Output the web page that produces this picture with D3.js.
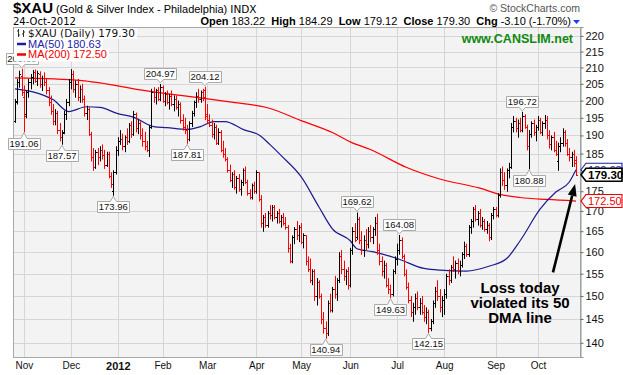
<!DOCTYPE html>
<html>
<head>
<meta charset="utf-8">
<script src="https://cdn.jsdelivr.net/npm/d3@7"></script>
<style>
    body { margin: 0; background: #fff; }
    svg { display: block; font-family: "Liberation Sans", Arial, sans-serif; }
</style>
</head>
<body>
<svg id="chart"></svg>
<script>
// daily bars [open, high, low, close], one array per month
const oct11 = [[194,200.5,193.7,199.5],[200,206.5,199,205.5],[205.5,209,204,208],[207.5,209.6,201.5,202.5]]
const nov11 = [[201,204.5,191.06,195.5],[196,203,195,202.5],[202.5,206.5,201,205.5],[205.5,208,203.5,207],
    [207,209.2,205,208.5],[208.5,209.4,205.5,206],[206,209,204.5,208.2],[208,208.8,204,205],
    [205,207.5,203,206.8],[206.8,208.5,204.5,205.5],[205.5,206.5,202,203],[203,204,198.5,199.5],
    [199.5,201.5,196,197],[197,199,193,194],[194,197.5,193,196.5],[196.5,197,190.5,191.5],
    [191.5,193.5,188.5,189.5],[189.5,191.5,187.57,190.8],[191,197,190.5,196],[196,200.5,194.5,199.5],
    [199.5,206.5,198.5,205.5]]
const dec11 = [[205.5,209.5,203.5,208],[208,209,202.5,203.5],[203.5,206,201,205],[205,206.5,200,201],
    [201,204.5,199.5,203.5],[203.5,205,199.5,200.5],[200.5,201.5,195.5,196.5],[196.5,198.5,194.5,197.5],
    [197.5,198,190,190.5],[190.5,191,183,184],[184,186.5,180.5,181.5],[181.5,186,181,185.5],
    [185.5,186.5,182,184],[184,187,183,186],[186,187.5,183.5,184.5],[184.5,186,181,182],
    [182,185.5,181.5,185],[185,185.5,178.5,179],[179,180,176,177],[175,180.5,173.96,180],
    [180,187,179.5,186]]
const jan12 = [[186,189.5,184.5,188.5],[188.5,191.5,187.5,189],[189,190.5,186,187],[187,190,185.5,189.5],
    [189.5,192,187.5,188.5],[188.5,193.5,188,193],[193,194,189.5,190.5],[190.5,197,190,196],
    [196,196.5,191,192],[192,194.5,190.5,193.5],[193.5,194,189,190],[190,192,187,188.5],
    [188.5,191,186,187],[187,188.5,185.5,186],[186,193,184.2,192.5],[192.5,203.5,192,202.5],
    [202.5,204,199.5,201],[201,203.5,199,203],[203,204,200,200.5],[200.5,204.97,200,204]]
const feb12 = [[204,204.5,199.5,200],[200,202.5,198.5,202],[202,203,199,199.5],[199.5,202,197.5,201.5],
    [201.5,203,198.5,199],[199,201.5,197,200.5],[200.5,201.5,197.5,198],[198,200,195.5,199],
    [199,199.5,193.5,194.5],[194.5,196,191.5,192.5],[192.5,195,190.5,191.5],[191.5,193,187.81,189],
    [189,194,188.5,193.5],[193.5,197,192.5,196.5],[196.5,200,195.5,199.5],[199.5,202.5,198,201.5],
    [201.5,203.5,199.5,200.5],[200.5,203,199.5,202.5],[202.5,203.5,200,201],[203,204.12,194.5,195.5]]
const mar12 = [[196,199,193.5,194.5],[194.5,196,192.5,193],[193,194.5,189.5,190.5],[190.5,193.5,189,192.5],
    [192.5,193,187.5,188],[188,192,187.5,191],[191,191.5,185.5,186],[186,188.5,184,185],
    [185,186.5,183,183.5],[183.5,184,180,180.5],[180.5,182,177.5,178],[178,180,176,179.5],
    [179.5,180.5,175.5,176],[176,179,174.5,178.5],[178.5,179.5,175,175.5],[175.5,178,174,177.5],
    [177.5,181,176.5,180.5],[180.5,181.5,177,177.5],[177.5,178,174,174.5],[174.5,175.5,173,173.5],
    [173.5,177,173,176.5],[176.5,177.5,174.5,175]]
const apr12 = [[175,180.5,174.5,180],[180,180,172.5,173],[173,174,166,167],[167,169,165,168.5],
    [168.5,169.5,166,166.5],[166.5,170,166,169.5],[169.5,171.5,168,169],[169,171.5,167.5,171],
    [171,171.5,168,168.5],[168.5,170,167,169.5],[169.5,170.5,167,167.5],[167.5,169,166,168.5],
    [168.5,169.5,166.5,167],[167,168.5,165.5,166],[166,166.5,160,161],[161,162,157.5,158],
    [158,164,157.5,163.5],[163.5,166,162,165.5],[165.5,167.5,163,164],[164,166.5,162.5,166]]
const may12 = [[166,167,162,162.5],[162.5,164.5,161,164],[164,164,157,158],[158,159,155.5,156],
    [156,158.5,153,153.5],[153.5,156,152.5,155.5],[155.5,156,149,150],[150,154,148,153],
    [153,153.5,149.5,150],[150,150.5,144,145],[145,146.5,142,143],[143,144.5,140.94,142],
    [142,149,141.5,148.5],[148.5,150.5,146.5,147],[147,152,146.5,151.5],[151.5,154.5,149.5,150.5],
    [150.5,154,149,153.5],[153.5,160,153,159],[159,160.5,155,156],[156,158,153.5,154.5],
    [154.5,156,152.5,155.5],[155.5,156.5,151.5,152.5]]
const jun12 = [[152.5,161,152,160.5],[160.5,166,159.5,165],[165,167,162.5,163],[163.5,169.62,163,168],
    [168,168.5,162,163],[163,165,159.5,160.5],[160.5,164,159,163],[163,165.5,160.5,162],
    [162,166,161,165],[165,166.5,162.5,163.5],[163.5,166,162,165.5],[165.5,168.5,164,167],
    [167,169.3,159.5,160.5],[160.5,162,157,158],[158,159,154.5,155.5],[155.5,158,154,157],
    [157,157.5,152,152.5],[152.5,154,150.5,151.5],[151.5,152.5,149.63,150.5],[150.5,156,150,155.5],
    [155.5,159,155,158.5]]
const jul12 = [[158.5,162,157,160.5],[160.5,164.08,159.5,163],[163,163.5,158.5,159],[159,159.5,154.5,155],
    [155,156,151.5,152],[152,153,148.5,149],[149,150,145.5,146.5],[146.5,148.5,144.5,147.5],
    [147.5,150.5,146,149.5],[149.5,151,147,147.5],[147.5,149.5,146,148.5],[148.5,150,146,146.5],
    [146.5,148,144.5,145.5],[145.5,147.5,144,146.5],[146.5,147,142.15,143],[143,145,142.5,144.5],
    [144.5,149,144,148.5],[148.5,152,147.5,151],[151,153.5,149,150],[150,151.5,146.5,147.5],
    [147.5,150,145.5,149]]
const aug12 = [[149,151.5,146,150.5],[150.5,155,149.5,154.5],[154.5,156,152.5,153.5],[153.5,157,153,156.5],
    [156.5,159,155.5,156],[156,158,154,157.5],[157.5,158.5,155,155.5],[155.5,158,154.5,157],
    [157,160,156.5,159.5],[159.5,162.5,158.5,161.5],[161.5,162,159,159.5],[159.5,166.5,159,166],
    [166,168,164.5,167.5],[167.5,171,166,170.5],[170.5,171.5,167.5,168],[168,170,166.5,169.5],
    [169.5,170.5,166,166.5],[166.5,168.5,165.5,167.5],[167.5,168,165,165.5],[165.5,167.5,164.5,166.5],
    [166.5,167,162.7,163.5],[163.5,169.5,163,169],[169,171,168,170.5]]
const sep12 = [[170.5,171,168.5,169],[169,174.5,168.5,174],[174,181,173.5,180],[180,181.5,176.5,178],
    [178,180,175.5,176.5],[176.5,181,175,180.5],[180.5,182.5,178.5,181.5],[181.5,193.5,181,192.5],
    [192.5,195.5,191,194],[194,195,191,192],[192,194.5,189.5,193.5],[193.5,195,191,191.5],
    [191.5,196.72,191,195.5],[195.5,196,192,192.5],[192.5,193,186,187],[187,191.5,180.88,190.5],
    [190.5,194,189.5,193.5],[193.5,194.5,190,191],[191,193,188.5,192.5]]
const oct12 = [[192.5,195.5,191.5,194.5],[194.5,195,190.5,191],[191,194,190,193.5],[193.5,195.8,192,194.5],
    [194.5,195.5,189,190],[190,191.5,186.5,187.5],[187.5,190,186,189.5],[189.5,191,185.5,186],
    [186,188.5,184.5,185],[183,188,180.5,187],[187,189.5,185.5,188],[188,192,187,191],
    [191,191.5,187,188],[188,189,184.5,185],[185,186.5,183,184],[184,185.5,181.5,185],
    [185,186,181.5,182.4],[183.22,184.29,179.12,179.3]]

// moving averages, [bar index, value]
const ma50 = [[0,203.5],[8,202.6],[17,200.3],[24,196.8],[32,198.2],[38,198],[46,196.2],[53,195.2],
    [62,192.5],[68,192.2],[77,191.7],[83,192.5],[89,193.9],[94,193.9],[102,191.7],[110,189.8],
    [114,187.5],[119,184.5],[128,178.8],[136,171],[142,165.6],[150,162.7],[153,160.8],[160,160.1],
    [171,158.5],[183,156.2],[190,155.8],[202,155.6],[212,156.7],[220,158.5],[226,162.7],[235,170.5],
    [242,174.8],[248,177.4],[251,180.63]]
const ma200 = [[0,206.8],[30,206],[38,205.3],[56,203.2],[62,202.6],[83,200.8],[96,199.6],[113,197.9],
    [128,194.2],[142,190.8],[150,188.2],[159,186.1],[175,181.3],[190,178.2],[208,175.8],[217,174.2],
    [226,173.4],[238,172.9],[251,172.5]]

// axis ticks
const priceTicks = [140,145,150,155,160,165,170,175,180,185,190,195,200,205,210,215,220]
const monthStarts = [4,25,46,66,86,108,128,150,171,192,215,234]
const monthLabels = ['Nov','Dec','2012','Feb','Mar','Apr','May','Jun','Jul','Aug','Sep','Oct']

// labelled highs and lows [bar index, 'h' | 'l']
const hiLo = [[3,'h'],[4,'l'],[21,'l'],[44,'l'],[65,'h'],[77,'l'],[85,'h'],[139,'l'],
    [153,'h'],[168,'l'],[172,'h'],[185,'l'],[227,'h'],[230,'l']]

const lastClose = 179.30, lastMa50 = 180.63, lastMa200 = 172.50
const note = ['Loss today', 'violated its 50', 'DMA line']
const arrowFrom = [240.7, 155.3], arrowTo = [250.6, 176.9]

/**********************************************
 * chart
 **********************************************/
const width = 623
const height = 375
const plotL = 13, plotR = 580, plotT = 27, plotB = 357

const bars = [].concat(oct11, nov11, dec11, jan12, feb12, mar12, apr12, may12, jun12, jul12, aug12, sep12, oct12)

const svg = d3.select('#chart').attr('width', width).attr('height', height)

const x = d3.scaleLinear().domain([0, bars.length - 1]).range([15, 576])
const y = d3.scaleLog().domain([137.1, 222.9]).range([plotB, plotT])
const px = v => Math.round(v) + 0.5

// plot frame
svg.append('rect')
    .attr('x', plotL + 0.5).attr('y', plotT + 0.5)
    .attr('width', plotR - plotL).attr('height', plotB - plotT)
    .attr('fill', '#f3f3f3').attr('stroke', '#a8a8a8')

// grid
const grid = svg.append('g').attr('stroke', '#d6d6d6')
priceTicks.forEach(v => {
    grid.append('line').attr('x1', plotL + 1).attr('x2', plotR)
        .attr('y1', px(y(v))).attr('y2', px(y(v)))
})
monthStarts.forEach(i => {
    grid.append('line').attr('y1', plotT + 1).attr('y2', plotB)
        .attr('x1', px(x(i))).attr('x2', px(x(i)))
})

// right axis
const yAxis = d3.axisRight(y).tickValues(priceTicks).tickFormat(d3.format('d')).tickSize(3).tickPadding(2)
const gy = svg.append('g').attr('transform', `translate(${plotR + 0.5},0)`).call(yAxis)
gy.select('.domain').attr('stroke', '#8c9c9c')
gy.selectAll('.tick line').attr('stroke', '#666')
gy.selectAll('text').attr('font-size', 11).attr('font-family', '"Liberation Sans", Arial').attr('fill', '#111')

// bottom axis
const xAxis = d3.axisBottom(x).tickValues(monthStarts).tickFormat((d, i) => monthLabels[i]).tickSize(0).tickPadding(5)
const gx = svg.append('g').attr('transform', `translate(0,${plotB})`).call(xAxis)
gx.select('.domain').remove()
gx.selectAll('text').attr('font-family', '"Liberation Sans", Arial').attr('fill', '#111')
    .attr('font-weight', (d, i) => monthLabels[i] === '2012' ? 'bold' : 'normal')
    .attr('font-size', (d, i) => monthLabels[i] === '2012' ? 11 : 10)

// moving averages
const maLine = d3.line().x(d => x(d[0])).y(d => y(d[1])).curve(d3.curveMonotoneX)
svg.append('path').datum(ma200).attr('d', maLine).attr('fill', 'none').attr('stroke', '#f00').attr('stroke-width', 1.2)
svg.append('path').datum(ma50).attr('d', maLine).attr('fill', 'none').attr('stroke', '#1c1c8e').attr('stroke-width', 1.2)

// OHLC bars, red when close is below the previous close
let dBlack = '', dRed = ''
bars.forEach((b, i) => {
    const xx = px(x(i))
    const seg = `M${xx},${y(b[1])}V${y(b[2]) + 0.5}M${xx - 1.5},${px(y(b[0]))}H${xx}M${xx},${px(y(b[3]))}H${xx + 1.5}`
    if (i > 0 && b[3] < bars[i - 1][3]) dRed += seg
    else dBlack += seg
})
svg.append('path').attr('d', dBlack).attr('stroke', '#000').attr('fill', 'none')
svg.append('path').attr('d', dRed).attr('stroke', '#f00').attr('fill', 'none')

// high / low labels
const lab = svg.append('g')
hiLo.forEach(([i, k]) => {
    const v = k === 'h' ? bars[i][1] : bars[i][2]
    const txt = v.toFixed(2)
    const cx = x(i), py = y(v)
    const w = 32, h = 11
    const l = Math.round(cx - w / 2) + 0.5, r = l + w
    let d, t
    if (k === 'h') {
        const b = Math.round(py - 5) + 0.5
        t = b - h
        d = `M${l},${t}H${r}V${b}H${cx + 3}L${cx},${py - 1}L${cx - 3},${b}H${l}Z`
    } else {
        t = Math.round(py + 6) + 0.5
        d = `M${l},${t}H${cx - 3}L${cx},${py + 1}L${cx + 3},${t}H${r}V${t + h}H${l}Z`
    }
    lab.append('path').attr('d', d).attr('fill', '#fff').attr('stroke', '#aaa')
    lab.append('text').attr('x', cx).attr('y', t + 8.8).attr('text-anchor', 'middle')
        .attr('font-size', 9.5).attr('fill', '#111').text(txt)
})

// legend
const legend = [
    { text: '$XAU (Daily) ' + lastClose.toFixed(2), color: '#111', y: 37, font: '"DejaVu Sans", Verdana', size: 10.5 },
    { text: 'MA(50) ' + lastMa50.toFixed(2), color: '#1c1ca8', y: 47.5, font: '"Liberation Sans", Arial', size: 11 },
    { text: 'MA(200) ' + lastMa200.toFixed(2), color: '#e00', y: 58, font: '"Liberation Sans", Arial', size: 11 }
]
legend.forEach((row, k) => {
    const g = svg.append('g')
    const bg = g.append('rect').attr('fill', '#fff')
    const t = g.append('text').attr('x', 28).attr('y', row.y).attr('fill', row.color)
        .attr('font-family', row.font).attr('font-size', row.size).text(row.text)
    const w = t.node().getComputedTextLength()
    bg.attr('x', 14).attr('y', row.y - 9).attr('width', w + 16).attr('height', k === 2 ? 12.5 : 11)
    if (k === 0) {
        g.append('path').attr('d', `M18.5,${row.y - 8}V${row.y}M17,${row.y - 6}H18.5M18.5,${row.y - 2}H20M23.5,${row.y - 7}V${row.y}M22,${row.y - 3}H23.5M23.5,${row.y - 5}H25`)
            .attr('stroke', '#333').attr('fill', 'none')
    } else {
        g.append('line').attr('x1', 17).attr('x2', 26).attr('y1', row.y - 3.5).attr('y2', row.y - 3.5)
            .attr('stroke', row.color).attr('stroke-width', 2.5)
    }
})

// price tags on the axis
function tag(v, color, bold) {
    const c = y(v)
    svg.append('path')
        .attr('d', `M${plotR + 1},${c}L${plotR + 6},${c - 6.5}H622V${c + 6.5}H${plotR + 6}Z`)
        .attr('fill', '#fff').attr('stroke', color).attr('stroke-width', bold ? 1.6 : 1.1)
    svg.append('text').attr('x', plotR + 8).attr('y', c + 4).attr('fill', color)
        .attr('font-size', bold ? 11.5 : 11).attr('font-weight', bold ? 'bold' : 'normal')
        .text(v.toFixed(2))
}
tag(lastMa50, '#1c1ca8', false)
tag(lastMa200, '#e00', false)
tag(lastClose, '#000', true)

// header
const title = svg.append('text').attr('x', 13).attr('y', 13)
title.append('tspan').attr('font-size', 15).attr('font-weight', 'bold').text('$XAU')
title.append('tspan').attr('font-size', 11).text(' (Gold & Silver Index - Philadelphia) ')
title.append('tspan').attr('font-size', 10.5).attr('font-family', '"DejaVu Sans", Verdana').text('INDX')

svg.append('text').attr('x', 580).attr('y', 12).attr('text-anchor', 'end')
    .attr('font-size', 10.5).attr('fill', '#555').text('\u00a9 StockCharts.com')

svg.append('text').attr('x', 13).attr('y', 25).attr('font-size', 10)
    .attr('font-family', '"DejaVu Sans", Verdana').text('24-Oct-2012')

const stats = [['Open', '183.22'], ['High', '184.29'], ['Low', '179.12'], ['Close', '179.30'], ['Chg', '-3.10 (-1.70%)']]
const st = svg.append('text').attr('x', 571).attr('y', 25).attr('text-anchor', 'end').attr('font-size', 11)
    .attr('xml:space', 'preserve')
stats.forEach(([k, v], i) => {
    st.append('tspan').attr('font-weight', 'bold').text((i ? '  ' : '') + k + ' ')
    st.append('tspan').text(v)
})
svg.append('path').attr('d', 'M573,20H580L576.5,24Z').attr('fill', '#1a3cff')

svg.append('text').attr('x', 573).attr('y', 43).attr('text-anchor', 'end')
    .attr('font-size', 12.5).attr('font-weight', 'bold').attr('fill', '#108a10').text('www.CANSLIM.net')

// annotation
const ax1 = x(arrowFrom[0]), ay1 = y(arrowFrom[1]), ax2 = x(arrowTo[0]), ay2 = y(arrowTo[1])
const len = Math.hypot(ax2 - ax1, ay2 - ay1), ux = (ax2 - ax1) / len, uy = (ay2 - ay1) / len
const bx = ax2 - ux * 12, by = ay2 - uy * 12
svg.append('line').attr('x1', ax1).attr('y1', ay1).attr('x2', bx).attr('y2', by)
    .attr('stroke', '#000').attr('stroke-width', 2.6)
svg.append('path')
    .attr('d', `M${ax2},${ay2}L${bx - uy * 4.5},${by + ux * 4.5}L${bx + uy * 4.5},${by - ux * 4.5}Z`)
    .attr('fill', '#000')

const nt = svg.append('text').attr('text-anchor', 'middle').attr('font-weight', 'bold')
    .attr('font-family', '"Liberation Sans Narrow", "Arial Narrow", Arial').attr('font-size', 15).attr('fill', '#000')
note.forEach((s, i) => nt.append('tspan').attr('x', 520).attr('y', 293 + i * 15.2).text(s))
</script>
</body>
</html>
